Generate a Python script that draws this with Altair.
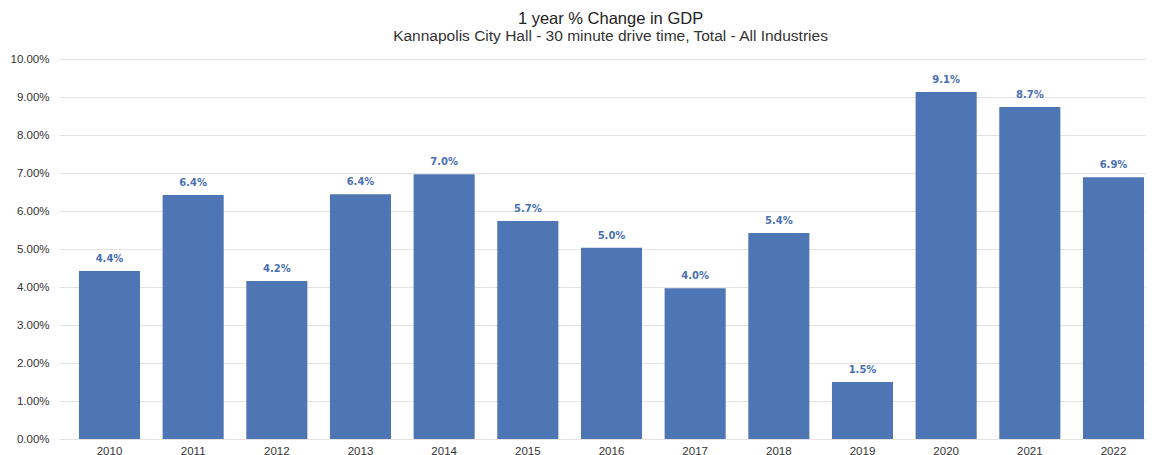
import altair as alt
import pandas as pd

years = ["2010", "2011", "2012", "2013", "2014", "2015", "2016", "2017", "2018", "2019", "2020", "2021", "2022"]
changes = [0.0442, 0.0642, 0.0416, 0.0644, 0.0697, 0.0574, 0.0503, 0.0397, 0.0542, 0.0150, 0.0913, 0.0874, 0.0689]

df = pd.DataFrame({"year": years, "change": changes})

bar_color = "#4e75b4"

base = alt.Chart(df).encode(
    x=alt.X(
        "year:N",
        sort=years,
        title=None,
        scale=alt.Scale(paddingInner=0.27, paddingOuter=0.131, align=0.91),
        axis=alt.Axis(labelAngle=0, ticks=False, domain=False, labelFont="Liberation Sans",
                      labelFontSize=11.5, labelColor="#333333", labelPadding=6),
    ),
    y=alt.Y(
        "change:Q",
        title=None,
        scale=alt.Scale(domain=[0, 0.10], nice=False),
        axis=alt.Axis(format=".2%", values=[i / 100 for i in range(11)], ticks=False, domain=False,
                      labelFont="Liberation Sans", labelFontSize=11.5, labelColor="#333333",
                      labelPadding=10, gridColor="#e3e3e3", gridWidth=1),
    ),
)

bars = base.mark_bar(color=bar_color)
labels = base.mark_text(
    baseline="bottom", dy=-7, font="DejaVu Sans", fontSize=10, fontWeight="bold", color="#4a70b2"
).encode(text=alt.Text("change:Q", format=".1%"))

chart = (bars + labels).properties(
    width=1087,
    height=380,
    title=alt.TitleParams(
        text="1 year % Change in GDP",
        subtitle="Kannapolis City Hall - 30 minute drive time, Total - All Industries",
        font="Liberation Sans",
        fontSize=16.5,
        fontWeight="normal",
        color="#222222",
        subtitleFont="Liberation Sans",
        subtitleFontSize=15.5,
        subtitleColor="#333333",
        subtitlePadding=1,
        anchor="middle",
        offset=9,
        dx=8,
    ),
    autosize=alt.AutoSizeParams(type="none"),
    padding={"left": 51, "top": 51, "right": 0, "bottom": 16},
).configure_view(stroke=None)

chart.save("out.html", embed_options={"renderer": "svg", "actions": False})
